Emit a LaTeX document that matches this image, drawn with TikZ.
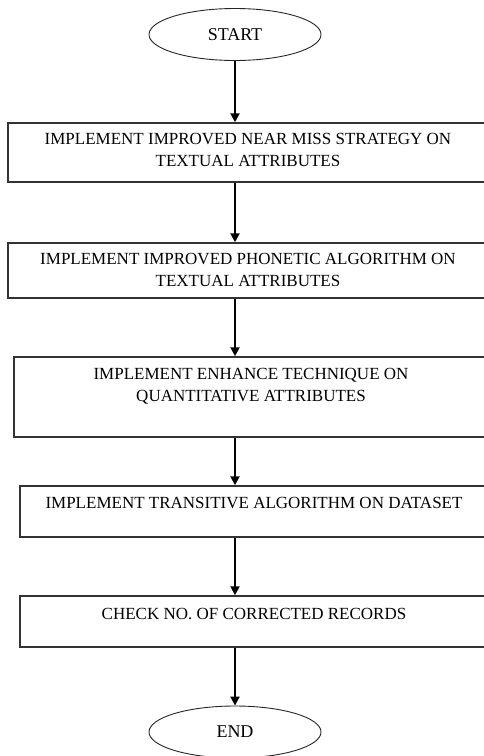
\documentclass[tikz,border=0pt]{standalone}
\usepackage{fontspec}
\setmainfont{Liberation Serif}
\usetikzlibrary{shapes.geometric, arrows.meta, positioning}

\begin{document}
\begin{tikzpicture}[x=1pt, y=-1pt,
  term/.style={draw=black!85, ellipse, line width=0.9pt, minimum width=172pt, minimum height=52pt, inner sep=0pt, font=\fontsize{18}{20}\selectfont},
  stepbox/.style={draw=black!80, line width=1.5pt, rectangle, inner sep=0pt},
  steptext/.style={inner sep=0pt, align=center, font=\fontsize{17}{22}\selectfont},
  arr/.style={-{Triangle[length=9pt, width=9pt]}, line width=2pt}
]
  \clip (0,0) rectangle (484,756);
  % --- start / end ---
  \node[term] (st) at (235,34.5) {START};
  \node[term] (en) at (235,732) {END};

  % --- steps (right side runs off the page) ---
  \node[stepbox, minimum width=480pt, minimum height=59pt] (b1) at (248,152.5) {};
  \node[stepbox, minimum width=480pt, minimum height=55pt] (b2) at (248,270.5) {};
  \node[stepbox, minimum width=474pt, minimum height=80pt] (b3) at (251,397) {};
  \node[stepbox, minimum width=468pt, minimum height=51pt] (b4) at (254,511.5) {};
  \node[stepbox, minimum width=468pt, minimum height=51pt] (b5) at (254,621.5) {};

  \node[steptext, below=11pt of b1.north] (t1) {IMPLEMENT IMPROVED NEAR MISS STRATEGY ON\\TEXTUAL ATTRIBUTES};
  \node[steptext, below=11pt of b2.north] (t2) {IMPLEMENT IMPROVED PHONETIC ALGORITHM ON\\TEXTUAL ATTRIBUTES};
  \node[steptext, below=12pt of b3.north] (t3) {IMPLEMENT ENHANCE TECHNIQUE ON\\QUANTITATIVE ATTRIBUTES};
  \node[steptext, below=12pt of b4.north] (t4) {IMPLEMENT TRANSITIVE ALGORITHM ON DATASET};
  \node[steptext, below=12.5pt of b5.north] (t5) {CHECK NO. OF CORRECTED RECORDS};

  % --- flow ---
  \draw[arr] (st) -- (st |- b1.north);
  \draw[arr] (b1.south -| st) -- (b2.north -| st);
  \draw[arr] (b2.south -| st) -- (b3.north -| st);
  \draw[arr] (b3.south -| st) -- (b4.north -| st);
  \draw[arr] (b4.south -| st) -- (b5.north -| st);
  \draw[arr] (b5.south -| st) -- (en);
\end{tikzpicture}
\end{document}
